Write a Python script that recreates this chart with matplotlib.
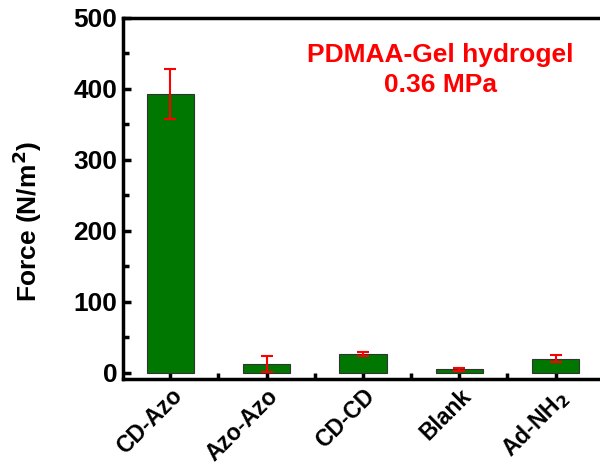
import matplotlib
matplotlib.use('Agg')
import matplotlib.pyplot as plt
from matplotlib.ticker import MultipleLocator

samples = ['CD-Azo', 'Azo-Azo', 'CD-CD', 'Blank', 'Ad-NH$_2$']
force = [393, 12, 26, 5, 20]
force_err = [35, 11, 3, 2, 5]

plt.rcParams['font.family'] = ['Liberation Sans', 'DejaVu Sans']
plt.rcParams['font.weight'] = 'bold'
plt.rcParams['mathtext.default'] = 'bf'

fig = plt.figure(figsize=(6, 4.66), dpi=100)
ax = fig.add_axes([0.205, 0.187, 0.795, 0.775])

x = range(len(samples))
ax.bar(x, force, width=0.49, color='#007700', edgecolor='#333333', linewidth=0.8,
       yerr=force_err, error_kw=dict(ecolor='red', elinewidth=1.5, capsize=4, capthick=1.5),
       zorder=2)

ax.set_xlim(-0.49, 4.46)
ax.set_ylim(-8.5, 500)
ax.set_xticks(list(x))
ax.set_xticklabels(samples, rotation=45, ha='right', rotation_mode='anchor', fontsize=16.5)
ax.xaxis.set_minor_locator(MultipleLocator(0.5))
ax.yaxis.set_major_locator(MultipleLocator(100))
ax.yaxis.set_minor_locator(MultipleLocator(50))
ax.tick_params(axis='both', which='both', direction='in', width=2.5)
ax.tick_params(axis='y', labelsize=19, pad=4)
ax.tick_params(which='major', length=6)
ax.tick_params(which='minor', length=4)
ax.tick_params(axis='x', pad=4)
for s in ['left', 'bottom', 'top']:
    ax.spines[s].set_linewidth(2.5)
ax.spines['right'].set_visible(False)
for lab in ax.get_yticklabels():
    lab.set_fontweight('bold')

ax.set_ylabel('Force (N/m$^2$)', fontsize=19, fontweight='bold')
ax.yaxis.set_label_coords(-0.165, 0.435)
ax.text(0.665, 0.855, 'PDMAA-Gel hydrogel\n0.36 MPa', transform=ax.transAxes,
        color='red', fontsize=19, fontweight='bold', ha='center', va='center',
        linespacing=1.3)

fig.savefig('out.png', dpi=100)
